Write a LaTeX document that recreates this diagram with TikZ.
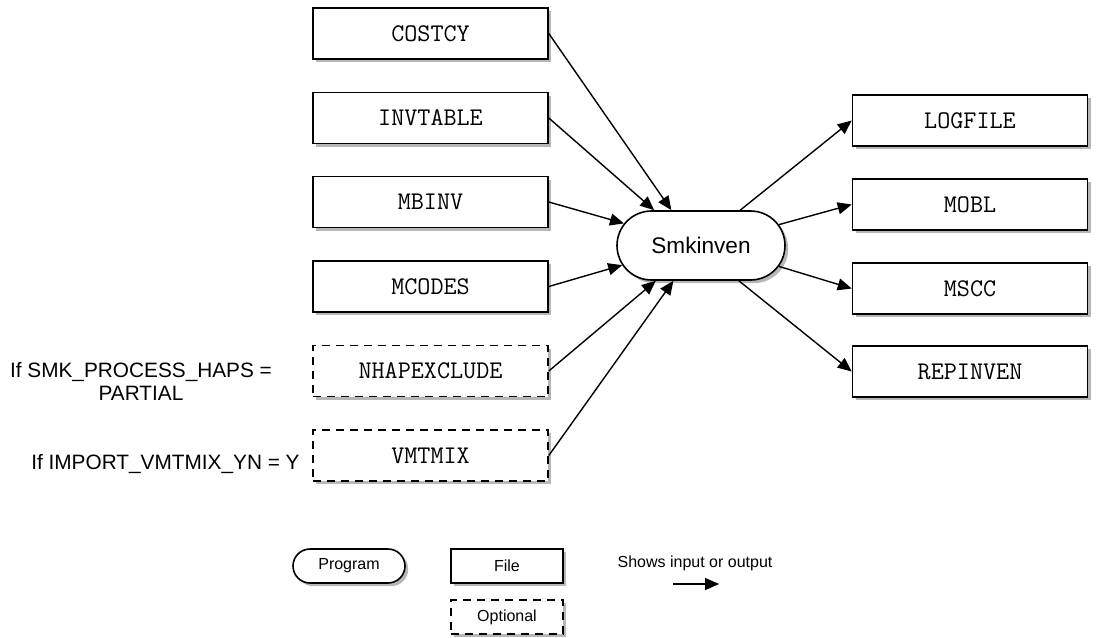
\documentclass[tikz,border=0pt]{standalone}
\usepackage{fontspec}
\setmainfont{Liberation Sans}
\usetikzlibrary{shapes.misc,shadows,arrows.meta}
\begin{document}
\begin{tikzpicture}[x=0.5pt,y=-0.5pt,
  shd/.style={drop shadow={shadow xshift=1.6pt,shadow yshift=-1.6pt,opacity=0.4,fill=black!70}},
  filebox/.style={draw,line width=0.8pt,fill=white,minimum width=117.5pt,minimum height=25.5pt,inner sep=0pt,font=\ttfamily\fontsize{12.7}{14}\selectfont,shd},
  optbox/.style={filebox,dash pattern=on 4pt off 3pt},
  prog/.style={draw,line width=0.8pt,fill=white,rounded rectangle,minimum width=84pt,minimum height=34.5pt,inner sep=0pt,font=\fontsize{11.3}{13}\selectfont,shd},
  lbox/.style={draw,line width=0.8pt,fill=white,minimum width=56pt,minimum height=17pt,inner sep=0pt,font=\fontsize{8}{10}\selectfont,shd},
  lprog/.style={lbox,rounded rectangle},
  lopt/.style={lbox,dash pattern=on 4pt off 3pt},
  conn/.style={line width=0.7pt,-{Triangle[length=7pt,width=6pt]}},
  cond/.style={font=\fontsize{10.4}{11.5}\selectfont,align=center,inner sep=0pt}]
\useasboundingbox (0,0) rectangle (1097,637);
% left inputs
\node[filebox] (costcy) at (430.5,33.5) {COSTCY};
\node[filebox] (invtable) at (430.5,118) {INVTABLE};
\node[filebox] (mbinv) at (430.5,202) {MBINV};
\node[filebox] (mcodes) at (430.5,286.5) {MCODES};
\node[optbox] (nhap) at (430.5,371) {NHAPEXCLUDE};
\node[optbox] (vmtmix) at (430.5,455.5) {VMTMIX};
% program
\node[prog] (smk) at (701,245.5) {Smkinven};
% outputs
\node[filebox] (logfile) at (970,120.5) {LOGFILE};
\node[filebox] (mobl) at (970,204.5) {MOBL};
\node[filebox] (mscc) at (970,288.5) {MSCC};
\node[filebox] (repinven) at (970,371.5) {REPINVEN};
% conditions
\node[cond] (c1) at (141,381) {If SMK\_PROCESS\_HAPS =\\PARTIAL};
\node[cond,anchor=east] (c2) at (300,464) {If IMPORT\_VMTMIX\_YN = Y};
% input arrows
\draw[conn] (costcy.east) -- (smk.130);
\draw[conn] (invtable.east) -- (smk.143);
\draw[conn] (mbinv.east) -- (smk.164);
\draw[conn] (mcodes.east) -- (smk.194);
\draw[conn] (nhap.east) -- (smk.218);
\draw[conn] (vmtmix.east) -- (smk.232);
% output arrows
\draw[conn] (smk.42) -- (logfile.west);
\draw[conn] (smk.15) -- (mobl.west);
\draw[conn] (smk.-15) -- (mscc.west);
\draw[conn] (smk.-43) -- (repinven.west);
% legend
\node[lprog] (lp) at (349,566) {Program};
\node[lbox] (lf) at (507,566) {File};
\node[lopt] (lo) at (507,617) {Optional};
\node[font=\fontsize{8}{10}\selectfont,inner sep=0pt] (ls) at (695,563) {Shows input or output};
\coordinate (la) at (673,584);
\coordinate (lb) at (719,584);
\draw[conn] (la) -- (lb);
\end{tikzpicture}
\end{document}
